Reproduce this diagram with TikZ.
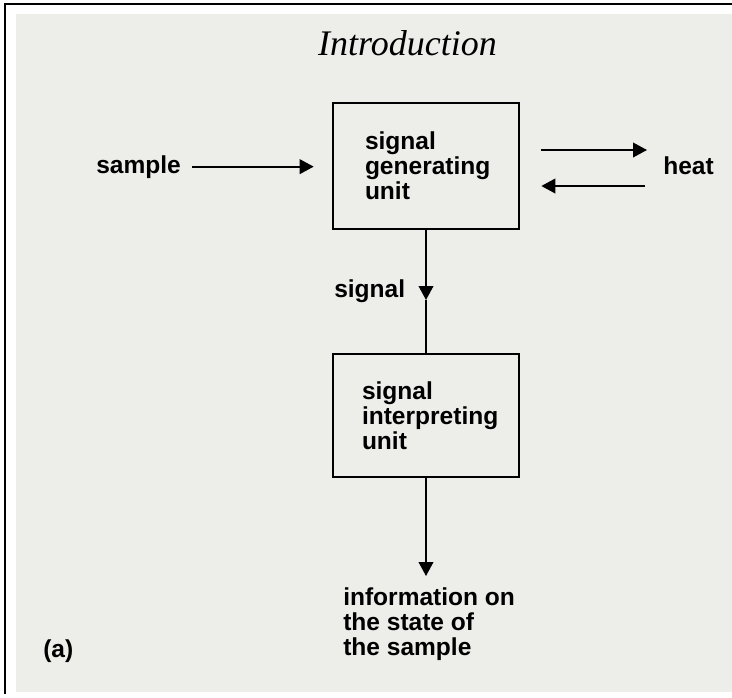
\documentclass[tikz,border=0pt]{standalone}
\usepackage{fontspec}
\setmainfont{Liberation Serif}
\setsansfont{Liberation Sans}
\usetikzlibrary{arrows.meta}
\definecolor{paper}{RGB}{237,237,234}
\tikzset{
    lbl/.style={inner sep=0.75pt, font=\sffamily\bfseries\fontsize{18.4}{18.75}\selectfont},
    unitbox/.style={draw, line width=2pt, lbl, align=left, minimum height=#1},
    arr/.style={line width=1.3pt, -{Triangle[length=10.5pt,width=11pt]}},
}

\begin{document}
\begin{tikzpicture}[x=0.75pt,y=0.75pt,yscale=-1,xscale=1]
\useasboundingbox (0,0) rectangle (732,697);

%Shape: Rectangle (scanned page)
\fill [white] (0,0) rectangle (732,697);
\fill [paper] (16,14) rectangle (732,692);
%Straight Lines (page edge)
\draw [line width=1.5pt] (5,694) -- (5,4) -- (732,4);

% Text Node
\draw (407.5,55) node [anchor=base][inner sep=0.75pt] (title) {\fontsize{27}{30}\selectfont\itshape Introduction};

%Shape: Rectangle
\draw (426,166) node [unitbox=94.5pt, inner xsep=24pt, text width=91.5pt] (gen) {signal\\generating\\unit};
%Shape: Rectangle
\draw (426,415.5) node [unitbox=92.25pt, inner xsep=21.75pt, text width=96pt] (interp) {signal\\interpreting\\unit};

% Text Node
\draw (95,173) node [anchor=base west][lbl] (sample) {sample};
% Text Node
\draw (662,166) node [anchor=west][lbl] (heat) {heat};
% Text Node
\draw (333,297) node [anchor=base west][lbl] (siglbl) {signal};
% Text Node
\draw (342,586) node [anchor=north west][lbl, align=left] (info) {information on\\the state of\\the sample};
% Text Node
\draw (42,657) node [anchor=base west][lbl] (fig) {(a)};

\coordinate (sigtip) at (426,300);
\coordinate (infotip) at (426,576);

%Straight Lines
\draw [arr, shorten <=7.5pt, shorten >=13.5pt] (sample.east) -- (sample.east -| gen.west);
\draw [arr, shorten <=15.75pt, shorten >=11.25pt] ([yshift=-12pt]gen.east) -- ([yshift=-12pt]heat.west);
\draw [arr, shorten <=12.75pt, shorten >=15.75pt] ([yshift=15pt]heat.west) -- ([yshift=15pt]gen.east);
%Straight Lines
\draw [arr] (gen.south) -- (sigtip);
\draw [line width=1.3pt] (sigtip) -- (interp.north);
\draw [arr] (interp.south) -- (infotip);

\end{tikzpicture}
\end{document}
